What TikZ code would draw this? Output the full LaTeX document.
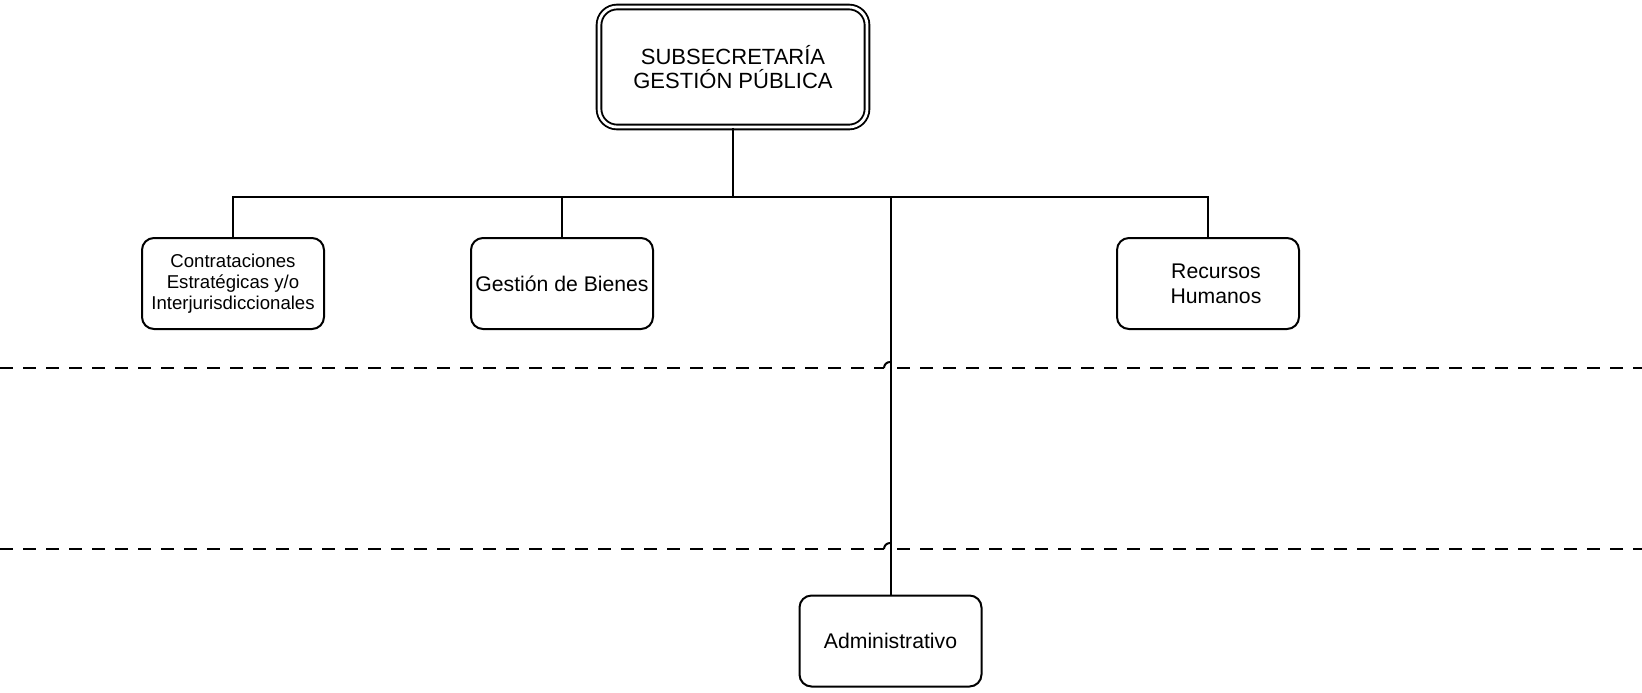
\documentclass[tikz,border=0pt]{standalone}
\usepackage{fontspec}
\setmainfont{Liberation Sans}
\begin{document}
\begin{tikzpicture}[x=0.5pt,y=-0.5pt,
  line width=1pt,
  unit/.style={draw, rounded corners=6pt, align=center, inner sep=1pt,
    minimum width=91pt, minimum height=45.5pt,
    font=\fontsize{10.6}{12.5}\selectfont},
  smallunit/.style={unit, font=\fontsize{9.3}{10.5}\selectfont},
  topunit/.style={draw, double, double distance=1.4pt, line width=0.95pt,
    rounded corners=9pt, align=center, minimum width=134pt, minimum height=60pt,
    font=\fontsize{11}{11.8}\selectfont},
  dashline/.style={dash pattern=on 6.5pt off 5pt},
  link/.style={line width=1pt}]
\useasboundingbox (0,0) rectangle (1642,692);
% dashed separators with line hops
\draw[dashline] (0,368) -- (884,368);
\draw[dashline] (897,368) -- (1642,368);
\draw (884,368) arc (180:90:3pt);
\draw[dashline] (0,549) -- (884,549);
\draw[dashline] (897,549) -- (1642,549);
\draw (884,549) arc (180:90:3pt);
% nodes
\node[topunit] (top) at (733,67) {SUBSECRETARÍA\\GESTIÓN PÚBLICA};
\node[smallunit] (c1) at (233,283.5) {Contrataciones\\Estratégicas y/o\\Interjurisdiccionales};
\node[unit] (c2) at (562,283.5) {Gestión de Bienes};
\node[unit] (c4) at (1208,283.5) {\hspace*{8pt}Recursos\\\hspace*{8pt}Humanos};
\node[unit] (adm) at (890.5,641) {Administrativo};
% connectors
\coordinate (j) at (733,197);
\draw[link] (top.south) -- (j);
\draw[link] (c1.north) -- (c1.north |- j) -- (c4.north |- j) -- (c4.north);
\draw[link] (c2.north) -- (c2.north |- j);
\draw[link] (adm.north) -- (adm.north |- j);
\end{tikzpicture}
\end{document}
